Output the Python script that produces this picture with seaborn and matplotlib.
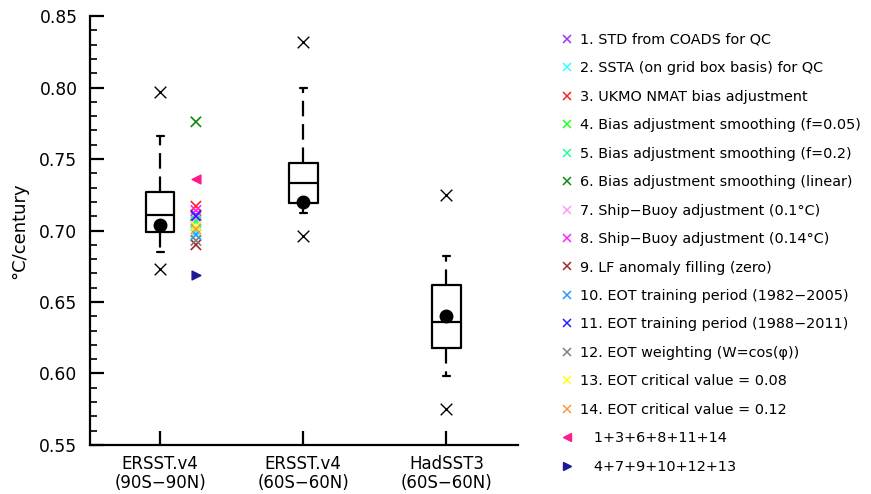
import numpy as np
import pandas as pd
import matplotlib
matplotlib.use("Agg")
import matplotlib.pyplot as plt
import seaborn as sns
from matplotlib.lines import Line2D

# ---------------- data ----------------
groups = ["ERSST.v4\n(90S\u221290N)", "ERSST.v4\n(60S\u221260N)", "HadSST3\n(60S\u221260N)"]
q1 = [0.699, 0.719, 0.618]
med = [0.711, 0.733, 0.636]
q3 = [0.727, 0.747, 0.662]
whis_lo = [0.685, 0.7125, 0.598]
whis_hi = [0.766, 0.800, 0.682]
means = [0.704, 0.720, 0.6405]
out_lo = [0.673, 0.6965, 0.5755]
out_hi = [0.797, 0.8315, 0.725]

exp_labels = [
    "1. STD from COADS for QC",
    "2. SSTA (on grid box basis) for QC",
    "3. UKMO NMAT bias adjustment",
    "4. Bias adjustment smoothing (f=0.05)",
    "5. Bias adjustment smoothing (f=0.2)",
    "6. Bias adjustment smoothing (linear)",
    "7. Ship\u2212Buoy adjustment (0.1\u00b0C)",
    "8. Ship\u2212Buoy adjustment (0.14\u00b0C)",
    "9. LF anomaly filling (zero)",
    "10. EOT training period (1982\u22122005)",
    "11. EOT training period (1988\u22122011)",
    "12. EOT weighting (W=cos(\u03c6))",
    "13. EOT critical value = 0.08",
    "14. EOT critical value = 0.12",
]
exp_values = [0.711, 0.699, 0.717, 0.707, 0.706, 0.776, 0.709,
              0.714, 0.690, 0.697, 0.710, 0.693, 0.703, 0.701]
exp_colors = ["#9933ff", "#33ffff", "#ff2020", "#22ff22", "#22ff99", "#118811",
              "#ff99ff", "#ff22ff", "#a52a2a", "#2299ff", "#2222ff", "#808080",
              "#ffff22", "#ff9933"]
combo_labels = ["1+3+6+8+11+14", "4+7+9+10+12+13"]
combo_values = [0.736, 0.669]
combo_colors = ["#ff1a8c", "#1a1a99"]
combo_markers = ["<", ">"]

# ---------------- style ----------------
sns.set_theme(style="ticks")
plt.rcParams["font.family"] = ["DejaVu Sans"]
plt.rcParams.update({
    "axes.linewidth": 1.6,
    "axes.edgecolor": "black",
    "xtick.color": "black",
    "ytick.color": "black",
    "text.color": "black",
    "axes.labelcolor": "black",
})

fig = plt.figure(figsize=(8.71, 4.94), dpi=100)
ax = fig.add_axes([0.1033, 0.0992, 0.4914, 0.8684])

stats = []
for i in range(3):
    stats.append(dict(label=groups[i], med=med[i], q1=q1[i], q3=q3[i],
                      whislo=whis_lo[i], whishi=whis_hi[i], mean=means[i],
                      fliers=[]))
ax.bxp(stats, positions=[0, 1, 2], widths=0.2, capwidths=0.05,
       showmeans=True, showfliers=False, patch_artist=False,
       boxprops=dict(color="black", linewidth=1.6),
       medianprops=dict(color="black", linewidth=1.6),
       whiskerprops=dict(color="black", linewidth=1.6, linestyle=(0, (7, 3.5))),
       capprops=dict(color="black", linewidth=1.6),
       meanprops=dict(marker="o", markerfacecolor="black", markeredgecolor="black",
                      markersize=9))

# outliers
out_df = pd.DataFrame({"x": [0, 1, 2, 0, 1, 2], "y": out_lo + out_hi})
sns.scatterplot(data=out_df, x="x", y="y", marker="x", color="black", s=70,
                linewidth=1.0, ax=ax, legend=False)

# experiment markers
xpos = 0.25
exp_df = pd.DataFrame({"x": [xpos] * len(exp_values), "y": exp_values,
                       "lab": exp_labels})
sns.scatterplot(data=exp_df, x="x", y="y", hue="lab", palette=exp_colors,
                hue_order=exp_labels, marker="x", s=55, linewidth=1.2, ax=ax,
                legend=False)
for v, c, m in zip(combo_values, combo_colors, combo_markers):
    ax.scatter([xpos], [v], marker=m, color=c, s=40, zorder=5)

ax.set_xlim(-0.49, 2.5)
ax.set_ylim(0.55, 0.85)
ax.set_xticks([0, 1, 2])
ax.set_xticklabels(groups, fontsize=12, linespacing=1.1)
yt = np.arange(0.55, 0.851, 0.05)
ax.set_yticks(yt)
ax.set_yticklabels([f"{v:.2f}" for v in yt], fontsize=12.3)
ax.set_yticks(np.arange(0.55, 0.851, 0.01), minor=True)
ax.tick_params(axis="y", which="major", direction="in", length=10, width=1.6, pad=9)
ax.tick_params(axis="y", which="minor", direction="in", length=5, width=1.2)
ax.tick_params(axis="x", which="major", direction="in", length=10, width=1.6, pad=7)
ax.set_xlabel("")
ax.set_ylabel("\u00b0C/century", fontsize=13, labelpad=8)
sns.despine(ax=ax)

# legend
handles = []
for lab, c in zip(exp_labels, exp_colors):
    handles.append(Line2D([], [], linestyle="none", marker="x", color=c,
                          markersize=6, markeredgewidth=1.1, label=lab))
for lab, c, m in zip(combo_labels, combo_colors, combo_markers):
    handles.append(Line2D([], [], linestyle="none", marker=m, color=c,
                          markersize=6, label="   " + lab))
fig.legend(handles=handles, loc="upper left", bbox_to_anchor=(0.638, 0.945),
           frameon=False, fontsize=10.4, labelspacing=1.0, handlelength=0.8,
           handletextpad=0.5, borderaxespad=0)

fig.savefig("out.png", dpi=100)
